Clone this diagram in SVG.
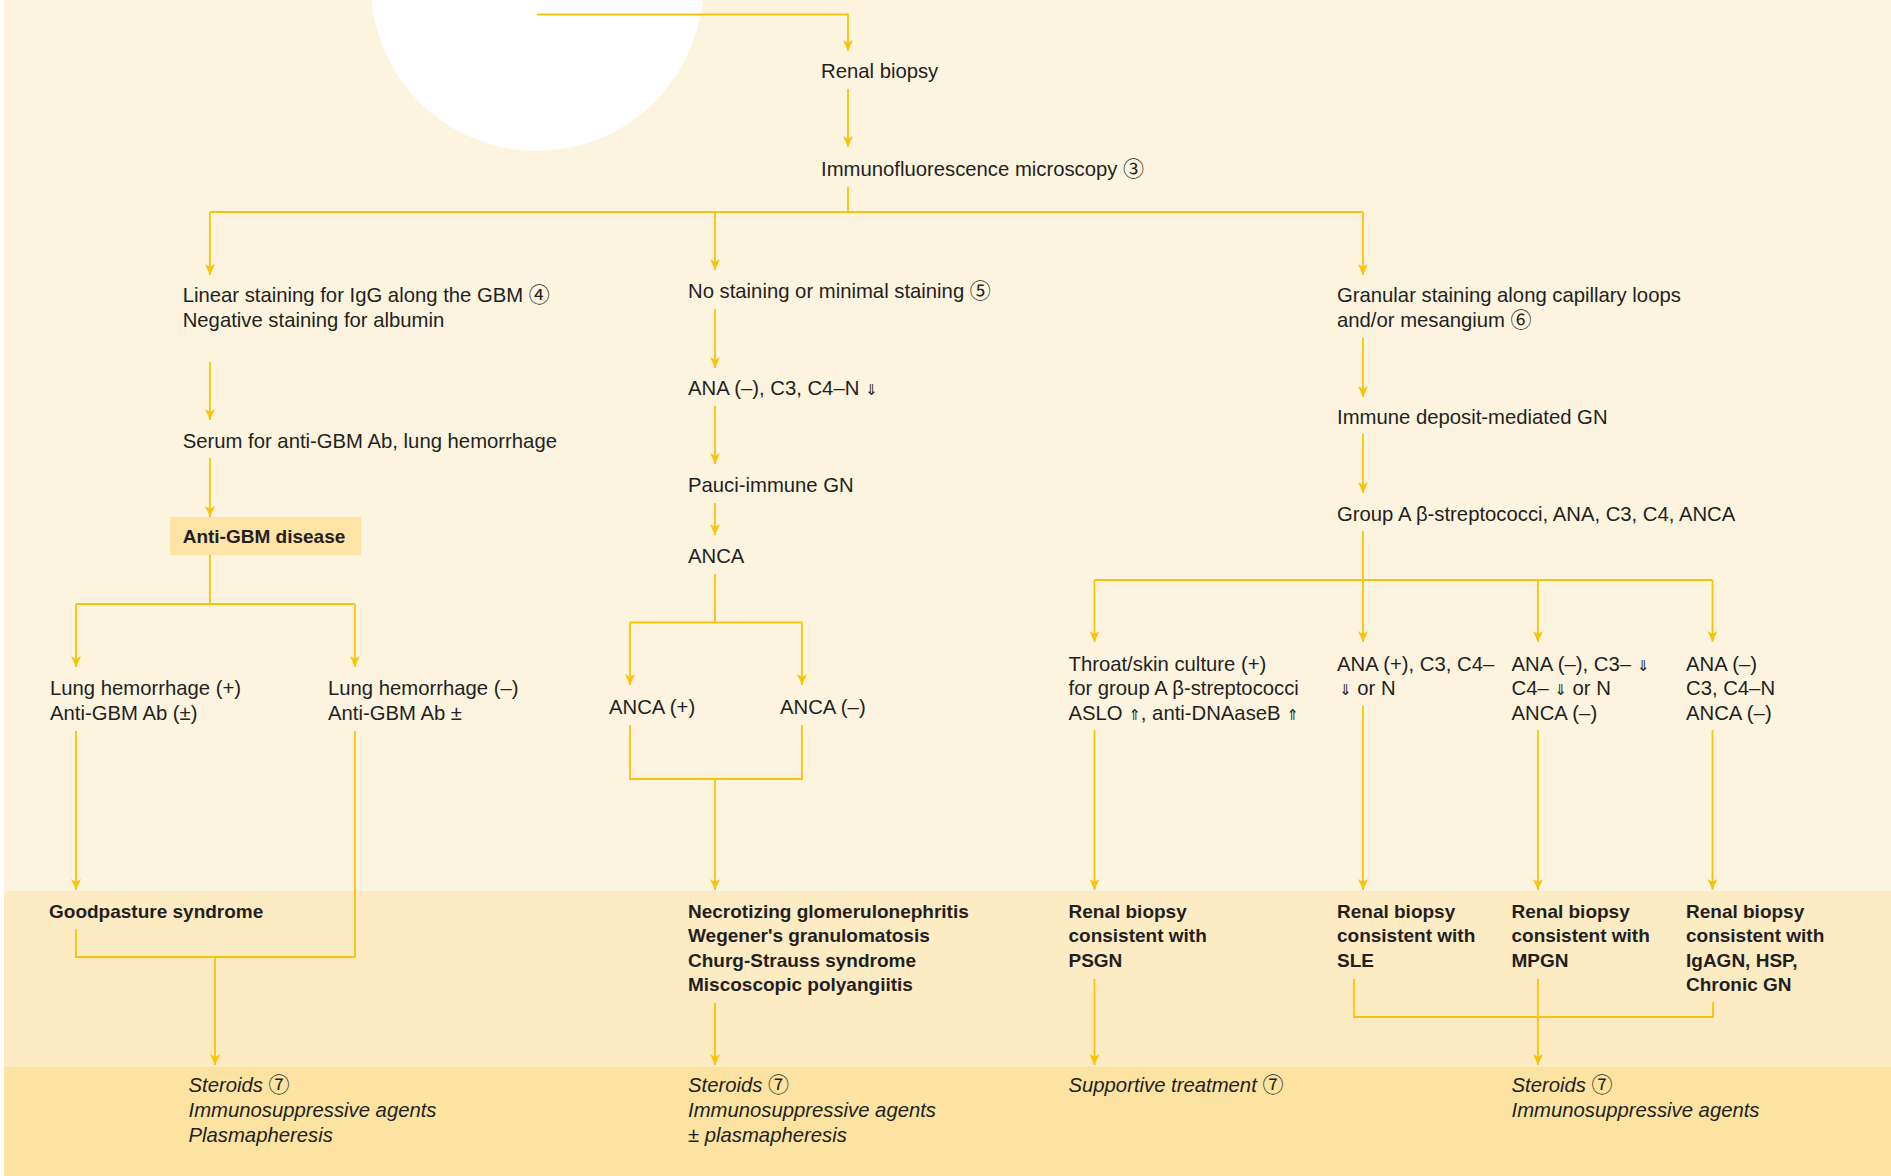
<svg xmlns="http://www.w3.org/2000/svg" width="1891" height="1176" viewBox="0 0 1891 1176">
<style>
text{font-family:"Liberation Sans","DejaVu Sans",sans-serif;font-size:20.3px;fill:#231F20}
.b{font-weight:bold;font-size:19px}
.i{font-style:italic}
.ar{font-family:"DejaVu Sans",sans-serif;font-size:15px}
.n{font-family:"Noto Sans CJK JP","DejaVu Sans",sans-serif;font-size:21px;font-style:normal;font-weight:normal}
.c{stroke:#F9C30A;stroke-width:1.8;fill:none}
.a{marker-end:url(#arr)}
</style>
<defs>
<marker id="arr" markerUnits="userSpaceOnUse" markerWidth="12" markerHeight="12" viewBox="0 -6 12 12" refX="11" refY="0" orient="auto">
<path d="M0,-5 L11,0 L0,5 L3,0 z" fill="#F9C30A"/>
</marker>
</defs>
<rect x="0" y="0" width="1891" height="1176" fill="#FFFFFF"/>
<rect x="4" y="0" width="1887" height="891" fill="#FDF4E0"/>
<rect x="4" y="891" width="1887" height="176" fill="#FDEBC4"/>
<rect x="4" y="1067" width="1887" height="109" fill="#FCE3A2"/>
<circle cx="537" cy="-15" r="166" fill="#FFFFFF"/>

<g id="connectors">
<path class="c a" d="M537,14.5 H848 V51"/>
<path class="c a" d="M848,89 V147"/>
<path class="c" d="M848,187 V212 M210,212 H1363"/>
<path class="c a" d="M210,212 V275"/>
<path class="c a" d="M715,212 V270"/>
<path class="c a" d="M1363,212 V275"/>
<path class="c a" d="M210,362 V420"/>
<path class="c a" d="M210,458 V517"/>
<path class="c" d="M210,555 V604 M76,604 H355"/>
<path class="c a" d="M76,604 V667"/>
<path class="c a" d="M355,604 V667"/>
<path class="c a" d="M76,731 V890"/>
<path class="c" d="M355,731 V957 H76 V929"/>
<path class="c a" d="M215,957 V1065"/>
<path class="c a" d="M715,309 V368"/>
<path class="c a" d="M715,406 V464"/>
<path class="c a" d="M715,503 V535"/>
<path class="c" d="M715,574 V622.5 M630,622.5 H802"/>
<path class="c a" d="M630,622.5 V685"/>
<path class="c a" d="M802,622.5 V685"/>
<path class="c" d="M630,725 V779 H802 V725"/>
<path class="c a" d="M715,779 V890"/>
<path class="c a" d="M715,1003 V1065"/>
<path class="c a" d="M1363,338 V397"/>
<path class="c a" d="M1363,434 V493"/>
<path class="c a" d="M1363,531 V642"/>
<path class="c" d="M1094.5,580 H1712.5"/>
<path class="c a" d="M1094.5,580 V642"/>
<path class="c a" d="M1538,580 V642"/>
<path class="c a" d="M1712.5,580 V642"/>
<path class="c a" d="M1094.5,730 V890"/>
<path class="c a" d="M1363,706 V890"/>
<path class="c a" d="M1538,730 V890"/>
<path class="c a" d="M1712.5,730 V890"/>
<path class="c a" d="M1094.5,979 V1065"/>
<path class="c" d="M1354,979 V1017 H1713 V1002"/>
<path class="c a" d="M1538,979 V1065"/>
</g>

<g id="renal-biopsy"><text x="821" y="78">Renal biopsy</text></g>
<g id="immunofluorescence"><text x="821" y="176">Immunofluorescence microscopy <tspan class="n">③</tspan></text></g>

<g id="linear-staining"><text x="182.7" y="302">Linear staining for IgG along the GBM <tspan class="n">④</tspan></text><text x="182.7" y="327">Negative staining for albumin</text></g>
<g id="serum"><text x="182.7" y="448">Serum for anti-GBM Ab, lung hemorrhage</text></g>
<g id="anti-gbm"><rect x="170" y="517" width="191" height="38" fill="#FDE3A6"/><text class="b" x="182.7" y="543">Anti-GBM disease</text></g>
<g id="lung-pos"><text x="50" y="695">Lung hemorrhage (+)</text><text x="50" y="719.5">Anti-GBM Ab (±)</text></g>
<g id="lung-neg"><text x="328" y="695">Lung hemorrhage (–)</text><text x="328" y="719.5">Anti-GBM Ab ±</text></g>
<g id="goodpasture"><text class="b" x="49" y="918">Goodpasture syndrome</text></g>
<g id="treat-1"><text class="i" x="188.5" y="1092">Steroids <tspan class="n">⑦</tspan></text><text class="i" x="188.5" y="1117">Immunosuppressive agents</text><text class="i" x="188.5" y="1141.5">Plasmapheresis</text></g>

<g id="no-staining"><text x="688" y="298">No staining or minimal staining <tspan class="n">⑤</tspan></text></g>
<g id="ana-neg"><text x="688" y="395">ANA (–), C3, C4–N <tspan class="ar">⇓</tspan></text></g>
<g id="pauci"><text x="688" y="491.5">Pauci-immune GN</text></g>
<g id="anca"><text x="688" y="563">ANCA</text></g>
<g id="anca-pos"><text x="609" y="714">ANCA (+)</text></g>
<g id="anca-neg"><text x="780" y="714">ANCA (–)</text></g>
<g id="necrotizing"><text class="b" x="688" y="918">Necrotizing glomerulonephritis</text><text class="b" x="688" y="942.3">Wegener's granulomatosis</text><text class="b" x="688" y="966.6">Churg-Strauss syndrome</text><text class="b" x="688" y="991">Miscoscopic polyangiitis</text></g>
<g id="treat-2"><text class="i" x="688" y="1092">Steroids <tspan class="n">⑦</tspan></text><text class="i" x="688" y="1117">Immunosuppressive agents</text><text class="i" x="688" y="1141.5">± plasmapheresis</text></g>

<g id="granular"><text x="1337" y="302">Granular staining along capillary loops</text><text x="1337" y="327">and/or mesangium <tspan class="n">⑥</tspan></text></g>
<g id="immune-deposit"><text x="1337" y="424">Immune deposit-mediated GN</text></g>
<g id="group-a"><text x="1337" y="520.5">Group A β-streptococci, ANA, C3, C4, ANCA</text></g>
<g id="throat"><text x="1068.5" y="670.5">Throat/skin culture (+)</text><text x="1068.5" y="695">for group A β-streptococci</text><text x="1068.5" y="720">ASLO <tspan class="ar">⇑</tspan>, anti-DNAaseB <tspan class="ar">⇑</tspan></text></g>
<g id="ana-pos"><text x="1337" y="670.5">ANA (+), C3, C4–</text><text x="1339" y="695"><tspan class="ar">⇓</tspan> or N</text></g>
<g id="ana-neg-c3"><text x="1511.5" y="670.5">ANA (–), C3– <tspan class="ar">⇓</tspan></text><text x="1511.5" y="695">C4– <tspan class="ar">⇓</tspan> or N</text><text x="1511.5" y="720">ANCA (–)</text></g>
<g id="ana-neg-n"><text x="1686" y="670.5">ANA (–)</text><text x="1686" y="695">C3, C4–N</text><text x="1686" y="720">ANCA (–)</text></g>
<g id="psgn"><text class="b" x="1068.5" y="918">Renal biopsy</text><text class="b" x="1068.5" y="942.3">consistent with</text><text class="b" x="1068.5" y="966.6">PSGN</text></g>
<g id="sle"><text class="b" x="1337" y="918">Renal biopsy</text><text class="b" x="1337" y="942.3">consistent with</text><text class="b" x="1337" y="966.6">SLE</text></g>
<g id="mpgn"><text class="b" x="1511.5" y="918">Renal biopsy</text><text class="b" x="1511.5" y="942.3">consistent with</text><text class="b" x="1511.5" y="966.6">MPGN</text></g>
<g id="igagn"><text class="b" x="1686" y="918">Renal biopsy</text><text class="b" x="1686" y="942.3">consistent with</text><text class="b" x="1686" y="966.6">IgAGN, HSP,</text><text class="b" x="1686" y="991">Chronic GN</text></g>
<g id="treat-3"><text class="i" x="1068.5" y="1092">Supportive treatment <tspan class="n">⑦</tspan></text></g>
<g id="treat-4"><text class="i" x="1511.5" y="1092">Steroids <tspan class="n">⑦</tspan></text><text class="i" x="1511.5" y="1117">Immunosuppressive agents</text></g>
</svg>
